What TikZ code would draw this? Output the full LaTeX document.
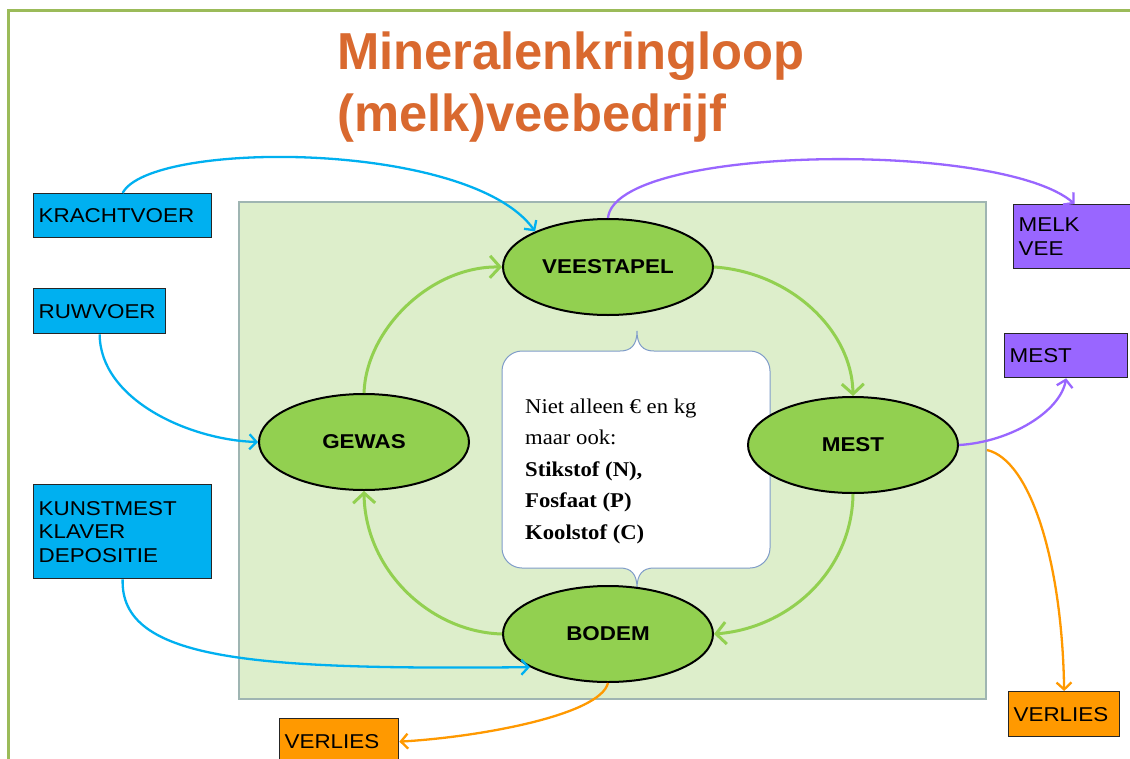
\documentclass[tikz,border=0pt]{standalone}
\usepackage{fontspec}
\setmainfont{Liberation Sans}
\newfontfamily\lsans[FakeStretch=1.12]{Liberation Sans}
\newfontfamily\ttlfont[FakeStretch=0.975]{Liberation Sans}
\newfontfamily\cserif[FakeStretch=1.08]{Liberation Serif}
\usetikzlibrary{arrows.meta,shapes.geometric}
\definecolor{ttl}{HTML}{D9692F}
\definecolor{framegreen}{HTML}{9BBB59}
\definecolor{panelfill}{HTML}{DDEECB}
\definecolor{paneldraw}{HTML}{9FB5B2}
\definecolor{ellfill}{HTML}{92D050}
\definecolor{bluebox}{HTML}{00B0F0}
\definecolor{purplebox}{HTML}{9966FF}
\definecolor{orangebox}{HTML}{FF9900}
\definecolor{calloutdraw}{HTML}{7F9CC8}
\begin{document}
\begin{tikzpicture}[x=1pt,y=-1pt,
  eln/.style={ellipse, draw=black, line width=2pt, fill=ellfill, minimum width=210pt, minimum height=96pt, inner sep=0pt, font=\lsans\bfseries\fontsize{20}{24}\selectfont},
  boxn/.style={draw=black!85, line width=1.3pt, anchor=north west, inner xsep=5pt, inner ysep=0pt, align=left, font=\lsans\fontsize{20}{23.5}\selectfont},
  ttlnode/.style={anchor=base west, inner sep=0pt, text=ttl, font=\ttlfont\bfseries\fontsize{52}{60}\selectfont},
  greenarrow/.style={draw=ellfill, line width=3pt, -{Straight Barb[length=10pt,width=22pt]}},
  bluearrow/.style={draw=bluebox, line width=2.3pt, -{Straight Barb[length=7pt,width=15pt]}},
  purplearrow/.style={draw=purplebox, line width=2.3pt, -{Straight Barb[length=7pt,width=16pt]}},
  orangearrow/.style={draw=orangebox, line width=2.3pt, -{Straight Barb[length=7pt,width=15pt]}},
]
\clip (0,0) rectangle (1130,758);
\fill[white] (0,0) rectangle (1130,758);
% page frame
\draw[framegreen, line width=3pt] (8,760) -- (8,10) -- (1132,10);
% title
\node[ttlnode] (t1) at (337,69) {Mineralenkringloop};
\node[ttlnode] (t2) at (337,131) {(melk)veebedrijf};
% panel
\node[draw=paneldraw, fill=panelfill, line width=2pt, anchor=north west, inner sep=0pt, minimum width=747pt, minimum height=497pt] (panel) at (238,201) {};
% callout
\draw[calloutdraw, fill=white, line width=1pt]
  (522,351) -- (620,351) .. controls (631,351) and (637,345) .. (637,331)
  .. controls (637,345) and (643,351) .. (654,351) -- (750,351)
  .. controls (761,351) and (770,360) .. (770,371) -- (770,548)
  .. controls (770,559) and (761,568) .. (750,568) -- (654,568)
  .. controls (643,568) and (637,574) .. (637,588)
  .. controls (637,574) and (631,568) .. (620,568) -- (522,568)
  .. controls (511,568) and (502,559) .. (502,548) -- (502,371)
  .. controls (502,360) and (511,351) .. (522,351) -- cycle;
\node[anchor=west, inner sep=0pt, align=left, font=\cserif\fontsize{21}{31.5}\selectfont] (ct) at (525,471)
  {Niet alleen € en kg\\maar ook:\\\textbf{Stikstof (N),}\\\textbf{Fosfaat (P)}\\\textbf{Koolstof (C)}};
% ellipses
\node[eln] (vee) at (608,267) {VEESTAPEL};
\node[eln] (gew) at (364,442) {GEWAS};
\node[eln] (mest) at (853,445) {MEST};
\node[eln] (bod) at (608,634) {BODEM};
% boxes
\node[boxn, fill=bluebox, minimum width=178pt, minimum height=44pt, text width=168pt] (kv) at (33,193) {KRACHTVOER};
\node[boxn, fill=bluebox, minimum width=132pt, minimum height=45pt, text width=122pt] (rv) at (33,288) {RUWVOER};
\node[boxn, fill=bluebox, minimum width=178pt, minimum height=94pt, text width=168pt] (km) at (33,484) {KUNSTMEST\\KLAVER\\DEPOSITIE};
\node[boxn, fill=purplebox, minimum width=122pt, minimum height=64pt, text width=112pt] (mv) at (1013,204) {MELK\\VEE};
\node[boxn, fill=purplebox, minimum width=123pt, minimum height=44pt, text width=113pt] (mb) at (1004,333) {MEST};
\node[boxn, fill=orangebox, minimum width=111pt, minimum height=45pt, text width=101pt] (vr) at (1008,691) {VERLIES};
\node[boxn, fill=orangebox, minimum width=119pt, minimum height=46pt, text width=109pt] (vl) at (279,718) {VERLIES};
\coordinate (lossR) at (987,450);
% blue inputs
\draw[bluearrow] (kv.north) .. controls (150,140) and (470,140) .. (vee.154);
\draw[bluearrow] (rv.south) .. controls (100,400) and (190,440) .. (gew.west);
\draw[bluearrow] (km.south) .. controls (120,660) and (250,670) .. (bod.203);
% green cycle
\draw[greenarrow] (gew.north) .. controls (366,330) and (430,266) .. (vee.west);
\draw[greenarrow] (vee.east) .. controls (790,272) and (852,330) .. (mest.north);
\draw[greenarrow] (mest.south) .. controls (852,570) and (790,628) .. (bod.east);
\draw[greenarrow] (bod.west) .. controls (430,632) and (365,570) .. (gew.south);
% purple outputs
\draw[purplearrow] (vee.north) .. controls (615,145) and (1000,140) .. (mv.north);
\draw[purplearrow] (mest.east) .. controls (1010,442) and (1060,412) .. (mb.south);
% orange losses
\draw[orangearrow] (lossR) .. controls (1030,460) and (1062,560) .. (vr.north);
\draw[orangearrow] (bod.south) .. controls (600,715) and (480,737) .. (vl.east);
\end{tikzpicture}
\end{document}
